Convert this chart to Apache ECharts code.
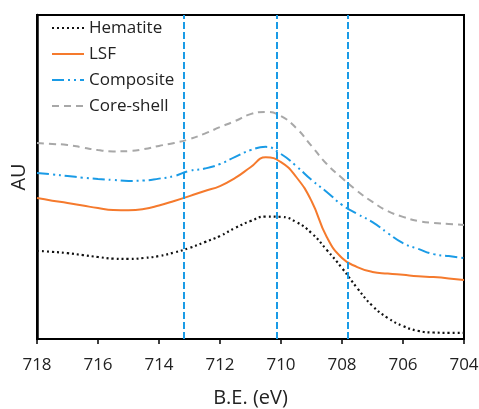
<!DOCTYPE html>
<html>
<head>
<meta charset="utf-8">
<script src="https://cdn.jsdelivr.net/npm/echarts@6/dist/echarts.min.js"></script>
<style>
  html, body { margin: 0; padding: 0; background: #fff; }
  #chart { width: 479px; height: 409px; }
</style>
</head>
<body>
<div id="chart"></div>
<script>
  // binding energy grid (eV), every 0.5 eV
  var be = [718, 717.5, 717, 716.5, 716, 715.5, 715, 714.5, 714, 713.5, 713, 712.5, 712, 711.5, 711, 710.5,
            710, 709.5, 709, 708.5, 708, 707.5, 707, 706.5, 706, 705.5, 705, 704.5, 704]
  // intensities, arbitrary units
  var hematite = [27.2, 26.9, 26.5, 25.9, 25.3, 24.8, 24.7, 25.0, 25.6, 26.7, 28.1, 29.9, 31.8, 34.3, 36.4, 37.8,
                  37.7, 36.1, 32.7, 27.5, 21.9, 15.7, 10.2, 6.5, 4.0, 2.5, 2.0, 1.9, 1.9]
  var lsf = [43.5, 42.7, 42.0, 41.2, 40.4, 39.8, 39.7, 40.1, 41.2, 42.6, 44.1, 45.7, 47.2, 49.7, 53.0, 56.1,
             54.6, 50.0, 42.6, 31.5, 25.0, 22.2, 20.7, 20.2, 19.8, 19.4, 19.1, 18.7, 18.2]
  var composite = [51.2, 50.8, 50.3, 49.8, 49.4, 49.1, 48.8, 48.9, 49.5, 50.3, 51.9, 52.6, 54.0, 56.2, 58.3, 59.3,
                   57.1, 53.4, 49.1, 45.4, 41.4, 38.6, 36.1, 32.7, 29.6, 27.8, 26.2, 25.6, 25.0]
  var coreShell = [60.5, 60.2, 59.9, 59.1, 58.3, 57.9, 58.0, 58.6, 59.6, 60.5, 61.7, 63.4, 65.4, 67.3, 69.4, 70.1,
                   68.8, 65.1, 59.6, 54.0, 49.7, 45.7, 42.3, 39.5, 37.7, 36.4, 35.8, 35.5, 35.2]
  // reference peak positions
  var refLines = [713.2, 710.15, 707.82]

  function pairs(ys) {
    return be.map(function (x, i) { return [x, ys[i]] })
  }

  var font = 'Open Sans'
  var myChart = echarts.init(document.getElementById('chart'))

  myChart.setOption({
    animation: false,
    textStyle: { fontFamily: font },
    grid: {
      left: 37, right: 15, top: 15, bottom: 70,
      outerBoundsMode: 'none',
      show: true, borderColor: '#000', borderWidth: 2
    },
    legend: {
      orient: 'vertical',
      left: 46, top: 13,
      itemWidth: 32, itemHeight: 14, itemGap: 6,
      // hide the marker, keep only the line sample
      itemStyle: { color: 'transparent', borderColor: 'transparent', borderWidth: 0, opacity: 0 },
      textStyle: { fontSize: 17, lineHeight: 20, color: '#222', fontFamily: font },
      data: ['Hematite', 'LSF', 'Composite', 'Core-shell']
    },
    xAxis: {
      type: 'value',
      inverse: true,
      min: 704, max: 718, interval: 2,
      name: 'B.E. (eV)',
      nameLocation: 'middle',
      nameGap: 49,
      nameTextStyle: { fontSize: 20, color: '#222' },
      axisLine: { lineStyle: { color: '#000', width: 2 } },
      axisTick: { show: true, length: 5, lineStyle: { color: '#000', width: 1.5 } },
      axisLabel: { fontSize: 17, color: '#222', margin: 18 },
      splitLine: { show: false }
    },
    yAxis: {
      type: 'value',
      min: 0, max: 100,
      name: 'AU',
      nameLocation: 'middle',
      nameGap: 8,
      nameTextStyle: { fontSize: 20, color: '#222' },
      axisLine: { show: true, lineStyle: { color: '#000', width: 2.5 } },
      axisTick: { show: false },
      axisLabel: { show: false },
      splitLine: { show: false }
    },
    series: [
      {
        name: 'Hematite', type: 'line', smooth: 0.5, symbol: 'none',
        data: pairs(hematite),
        lineStyle: { color: '#111', width: 2.2, type: [2, 3] },
        itemStyle: { color: '#111' },
        markLine: {
          silent: true, symbol: 'none',
          label: { show: false },
          lineStyle: { color: '#1a9be6', width: 2, type: [7, 3] },
          data: refLines.map(function (v) { return { xAxis: v } })
        }
      },
      {
        name: 'LSF', type: 'line', smooth: 0.5, symbol: 'none',
        data: pairs(lsf),
        lineStyle: { color: '#f57a2d', width: 2 },
        itemStyle: { color: '#f57a2d' }
      },
      {
        name: 'Composite', type: 'line', smooth: 0.5, symbol: 'none',
        data: pairs(composite),
        lineStyle: { color: '#1a9be6', width: 2, type: [12, 4, 2, 4, 2, 4] },
        itemStyle: { color: '#1a9be6' }
      },
      {
        name: 'Core-shell', type: 'line', smooth: 0.5, symbol: 'none',
        data: pairs(coreShell),
        lineStyle: { color: '#a8a8a8', width: 2, type: [7, 5] },
        itemStyle: { color: '#a8a8a8' }
      }
    ]
  })
</script>
</body>
</html>
